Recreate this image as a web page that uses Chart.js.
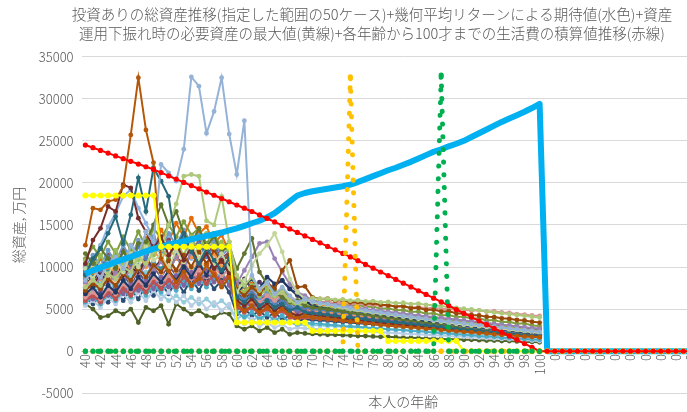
<!DOCTYPE html>
<html>
<head>
<meta charset="utf-8">
<script src="https://cdn.jsdelivr.net/npm/chart.js@4.4.1/dist/chart.umd.min.js"></script>
<style>
  html, body { margin: 0; padding: 0; overflow: hidden; background: #fff; }
  #wrap { width: 740px; height: 412px; }
</style>
</head>
<body>
<div id="wrap"><canvas id="chart" width="740" height="412"></canvas></div>
<script>
// x categories: age 40..100, then the empty rows of the sheet (shown as 0)
const ageLabels = [
  40, 41, 42, 43, 44, 45, 46, 47, 48, 49,
  50, 51, 52, 53, 54, 55, 56, 57, 58, 59,
  60, 61, 62, 63, 64, 65, 66, 67, 68, 69,
  70, 71, 72, 73, 74, 75, 76, 77, 78, 79,
  80, 81, 82, 83, 84, 85, 86, 87, 88, 89,
  90, 91, 92, 93, 94, 95, 96, 97, 98, 99,
  100, 0, 0, 0, 0, 0, 0, 0, 0, 0,
  0, 0, 0, 0, 0, 0, 0, 0, 0, 0,
  0, 0, 0, 0, 0
];

const yTicks = { min: -5000, max: 35000, step: 5000 };

// 生活費の積算値 (red)
const livingCost = [
  24500, 24180, 23860, 23540, 23210, 22880, 22560, 22240, 21920, 21600,
  21220, 20830, 20450, 20060, 19680, 19300, 18910, 18530, 18140, 17760,
  17370, 16990, 16600, 16190, 15770, 15360, 14940, 14530, 14110, 13700,
  13280, 12870, 12450, 12040, 11620, 11200, 10750, 10310, 9860, 9410,
  8970, 8520, 8080, 7630, 7180, 6740, 6290, 5850, 5400, 4950,
  4500, 4050, 3600, 3150, 2700, 2250, 1800, 1350, 900, 450,
  0, 0, 0, 0, 0, 0, 0, 0, 0, 0,
  0, 0, 0, 0, 0, 0, 0, 0, 0, 0,
  0, 0, 0, 0, 0
];

// 幾何平均リターンによる期待値 (light blue)
const expected = [
  9200, 9600, 9950, 10250, 10600, 10900, 11200, 11550, 11850, 12150,
  12400, 12650, 12850, 13050, 13300, 13500, 13700, 13900, 14100, 14350,
  14600, 14900, 15200, 15500, 15900, 16400, 17100, 17800, 18500, 18800,
  19000, 19150, 19300, 19450, 19600, 19800, 20100, 20450, 20800, 21150,
  21500, 21800, 22150, 22500, 22900, 23300, 23700, 24000, 24350, 24650,
  25000, 25450, 25900, 26350, 26800, 27250, 27650, 28050, 28450, 28900,
  29400, 0, 0, 0, 0, 0, 0, 0, 0, 0,
  0, 0, 0, 0, 0, 0, 0, 0, 0, 0,
  0, 0, 0, 0, 0
];

// 必要資産の最大値 (yellow)
const requiredMax = [
  18500, 18500, 18500, 18500, 18500, 18500, 18500, 18500, 18500, 18500,
  12400, 12400, 12400, 12400, 12400, 12400, 12400, 12400, 12400, 12400,
  3400, 3400, 3400, 3400, 3400, 3400, 3400, 3400, 3400, 3400,
  2400, 2400, 2400, 2400, 2400, 2400, 2400, 2400, 2400, 2400,
  1200, 1200, 1200, 1200, 1200, 1200, 1200, 1200, 1200, 1200,
  0, 0, 0, 0, 0, 0, 0, 0, 0, 0,
  0, 0, 0, 0, 0, 0, 0, 0, 0, 0,
  0, 0, 0, 0, 0, 0, 0, 0, 0, 0,
  0, 0, 0, 0, 0
];

// dotted marker series (orange at 75, green at 87)
const markOrange = [
  0, 0, 0, 0, 0, 0, 0, 0, 0, 0,
  0, 0, 0, 0, 0, 0, 0, 0, 0, 0,
  0, 0, 0, 0, 0, 0, 0, 0, 0, 0,
  0, 0, 0, 0, 0, 32600, 0, 0, 0, 0,
  0, 0, 0, 0, 0, 0, 0, 0, 0, 0,
  0, 0, 0, 0, 0, 0, 0, 0, 0, 0,
  0
];
const markGreen = [
  0, 0, 0, 0, 0, 0, 0, 0, 0, 0,
  0, 0, 0, 0, 0, 0, 0, 0, 0, 0,
  0, 0, 0, 0, 0, 0, 0, 0, 0, 0,
  0, 0, 0, 0, 0, 0, 0, 0, 0, 0,
  0, 0, 0, 0, 0, 0, 0, 32800, 0, 0,
  0, 0, 0, 0, 0, 0, 0, 0, 0, 0,
  0
];

// 50ケースのうち読み取れた分 (age 40..100)
const case01 = [12600,17000,16800,17800,18000,19600,25700,32500,26300,22400, 11000,9500,8200,9400,7800,8600,10200,9000,7600,8800, 5600,4800,5400,4600,5200,4400,5000,4300,3900,4200, 4000,3900,3850,3700,3650,3500,3450,3300,3250,3100, 3050,2950,2900,2800,2750,2650,2600,2500,2450,2350, 2300,2250,2150,2100,2000,1950,1900,1800,1750,1700, 1650];
const case02 = [8400,9600,8800,10400,11200,9800,12600,11400,14200,13000, 22200,21200,20200,24000,32600,31500,25900,28500,32500,25800, 21000,27400,9000,7400,8200,6800,7600,6600,5800,6200, 5900,5700,5600,5400,5300,5100,5000,4850,4700,4600, 4450,4350,4200,4100,3950,3850,3700,3600,3500,3400, 3300,3200,3100,3000,2900,2800,2700,2600,2500,2400, 2300];
const case03 = [9000,11000,12200,14000,16000,12800,16200,20600,16600,21800, 20200,18400,12500,14000,11800,10400,12200,10800,9600,11000, 6400,5800,6600,5400,6000,5200,5600,4800,5200,4600, 4500,4450,4300,4250,4100,4000,3900,3800,3700,3600, 3500,3450,3350,3250,3150,3050,2950,2850,2750,2650, 2550,2500,2400,2300,2250,2150,2050,2000,1900,1800, 1750];
const case04 = [10400,13200,14600,17200,16600,19800,19400,15800,14200,12200, 13600,11400,12800,10800,12400,10200,11600,9800,10800,9200, 6000,5400,6200,5000,5600,4800,5400,4600,4200,4500, 4300,4200,4100,4000,3900,3800,3700,3600,3500,3400, 3300,3200,3150,3050,2950,2850,2800,2700,2600,2550, 2450,2400,2300,2250,2150,2100,2000,1950,1850,1800, 1700];
const case05 = [7600,8400,7800,9200,8600,10000,9400,11200,10400,11800, 12000,15000,17500,20800,21000,20800,15500,15000,18400,13000, 9000,7800,8800,7200,8000,6600,7000,6000,5600,5900, 6300,6200,6250,6100,6150,6000,6050,5900,5950,5800, 5850,5700,5750,5600,5650,5500,5450,5350,5250,5150, 5050,4950,4850,4700,4600,4500,4400,4300,4200,4100, 4000];
const case06 = [9800,8600,10200,9000,10800,9400,11600,10000,12400,10800, 11400,9800,12000,10600,12800,11000,12200,10400,11600,9800, 7000,8400,10200,11600,12600,14000,11800,8600,7000,6200, 5800,5600,5500,5300,5200,5000,4900,4750,4600,4500, 4350,4250,4100,4000,3850,3750,3600,3500,3350,3250, 3150,3050,2950,2850,2750,2650,2550,2450,2350,2250, 2150];
const case07 = [11600,10400,12200,11000,9800,11800,10600,12800,13000,15000, 17400,15000,16600,14000,12800,14600,12400,13600,11800,12600, 9800,11600,13400,9400,8000,7000,6400,5800,6000,5400, 5200,5100,4950,4850,4700,4600,4450,4350,4200,4100, 3950,3850,3700,3600,3450,3350,3200,3100,2950,2850, 2700,2600,2500,2400,2300,2200,2100,2000,1900,1800, 1700];
const case08 = [7200,8000,7400,8600,7800,9200,8400,9800,8800,10200, 9400,10800,9600,11400,10000,11800,10400,12000,10600,11400, 7400,6600,7600,6800,8200,7400,9600,10800,7600,7700, 6400,6200,6250,6000,6050,5800,5850,5650,5700,5500, 5450,5300,5350,5100,5150,4900,4950,4700,4750,4500, 4450,4300,4250,4100,4050,3900,3850,3700,3650,3500, 3400];
const case09 = [6800,7600,6400,7800,7000,8400,7400,8800,7800,9200, 8200,9600,8400,10000,8800,10400,9000,10800,9400,10200, 7000,7800,8600,7400,8800,8000,8400,7400,6800,6000, 5400,5200,5000,4900,4750,4600,4500,4400,4250,4150, 4050,3950,3850,3750,3650,3550,3450,3350,3250,3150, 3050,2950,2850,2750,2650,2550,2450,2350,2250,2150, 2050];
const case10 = [8200,7400,8800,7800,9400,8400,9800,8800,10400,9600, 10600,9400,11200,9800,11800,10200,12000,10600,11400,10000, 8000,9600,11200,12800,13000,11000,9400,8000,7000,6600, 6000,5800,5650,5500,5400,5250,5150,5000,4900,4800, 4650,4550,4450,4350,4250,4150,4050,3950,3850,3750, 3650,3550,3450,3350,3250,3150,3050,2950,2850,2750, 2650];
const case11 = [6400,7000,6200,7400,6800,8000,7200,8400,7600,8800, 8000,9000,8200,9400,8600,9800,8800,10000,9000,9600, 6000,5600,6400,5800,6600,6000,6800,6200,5800,6000, 5900,5800,5850,5700,5750,5600,5650,5500,5550,5400, 5450,5300,5350,5200,5250,5100,5150,5000,5050,4900, 4950,4800,4850,4700,4750,4600,4550,4400,4350,4250, 4200];
const case12 = [9400,10600,9600,11200,10200,11800,10400,12400,11000,12800, 11600,13000,11800,13400,12000,12800,11200,12400,10800,11600, 6800,6000,6800,5800,6400,5600,6000,5200,5000,5200, 5000,4900,4800,4700,4600,4500,4400,4300,4200,4100, 4000,3900,3800,3700,3600,3500,3400,3300,3200,3100, 3000,2900,2800,2700,2600,2500,2400,2300,2200,2100, 2000];
const case13 = [6000,6600,5800,7000,6200,7400,6600,7800,7000,8200, 7400,8400,7600,8800,7800,9000,8000,9200,8200,9000, 5200,4600,5200,4400,5000,4200,4800,4000,3800,4000, 3900,3850,3750,3700,3600,3550,3450,3400,3300,3250, 3150,3100,3000,2950,2850,2800,2700,2650,2550,2500, 2400,2350,2250,2200,2100,2050,1950,1900,1800,1750, 1700];
const case14 = [10800,9600,11400,10000,12000,10400,12600,10800,13200,11400, 12400,10800,13000,11400,13600,11800,14000,12200,13000,11600, 7600,7000,7800,6600,7400,6200,7000,5800,5400,5600, 5400,5300,5200,5100,5000,4900,4800,4700,4600,4500, 4400,4300,4200,4100,4000,3900,3800,3700,3600,3500, 3400,3300,3200,3100,3000,2900,2800,2700,2600,2500, 2400];
const case15 = [7000,6200,7400,6600,7800,6800,8200,7200,8600,7400, 8800,7600,9000,7800,9400,8000,9600,8200,9200,7800, 5400,6000,5200,5800,5000,5600,4800,5200,4600,4800, 4600,4500,4400,4300,4200,4100,4000,3900,3800,3750, 3650,3550,3450,3400,3300,3200,3100,3050,2950,2850, 2750,2700,2600,2500,2400,2350,2250,2150,2050,2000, 1900];
const case16 = [5800,6400,5600,6800,6000,7200,6400,7600,6600,7800, 7000,8000,7200,8400,7400,8600,7600,8800,7800,8400, 4600,4000,4600,3800,4400,3600,4200,3400,3200,3400, 3300,3250,3150,3100,3000,2950,2900,2800,2750,2700, 2600,2550,2500,2400,2350,2300,2200,2150,2100,2000, 1950,1900,1800,1750,1700,1600,1550,1500,1450,1400, 1350];
const case17 = [8800,9800,8600,10400,9200,11000,9600,11600,10000,12000, 10800,12400,11000,12800,11200,12000,10400,11600,10000,10800, 6200,5400,6000,5000,5600,4600,5200,4400,4600,4900, 4800,4700,4600,4500,4450,4350,4250,4150,4050,3950, 3850,3750,3650,3550,3450,3350,3250,3150,3050,2950, 2850,2750,2650,2550,2450,2350,2250,2150,2050,1950, 1850];
const case18 = [5400,6000,5200,6400,5600,6800,5800,7000,6000,7200, 6200,7000,5800,6600,5400,6200,5000,5800,4800,5600, 3600,3200,3800,3000,3400,2800,3200,2600,2800,2700, 2650,2600,2550,2500,2500,2450,2400,2350,2300,2250, 2200,2150,2100,2050,2000,1950,1900,1850,1800,1750, 1700,1650,1600,1550,1500,1450,1400,1350,1300,1250, 1200];
const case19 = [6400,5600,6800,5800,7200,6000,7400,6200,7800,6600, 8000,6800,8400,7000,8600,7200,8800,7400,8400,7000, 4400,5000,4200,4800,4000,4600,3800,4200,3600,3800, 3700,3650,3600,3500,3450,3400,3300,3250,3200,3100, 3050,3000,2900,2850,2800,2700,2650,2600,2500,2450, 2400,2300,2250,2200,2100,2050,2000,1900,1850,1800, 1750];
const case20 = [5600,5000,4000,4200,4800,4400,5000,3400,5200,4800, 5400,3200,5600,5000,4400,4800,4200,4000,4600,4400, 3000,2600,3000,2400,2800,2200,2600,2000,2200,2100, 2050,2000,1950,1950,1900,1850,1800,1800,1750,1700, 1700,1650,1600,1600,1550,1500,1500,1450,1400,1400, 1350,1350,1300,1250,1250,1200,1200,1150,1100,1100, 1050];
const case21 = [7800,8600,7600,9000,8000,9400,8200,9800,8600,10200, 9200,10400,9400,10800,9600,11000,9800,11200,10000,10600, 6600,5800,6400,5400,6000,5000,5600,4800,4600,4800, 4700,4600,4550,4450,4350,4300,4200,4100,4050,3950, 3850,3800,3700,3600,3550,3450,3350,3300,3200,3100, 3050,2950,2850,2800,2700,2600,2550,2450,2350,2300, 2200];
const case22 = [10000,11400,10200,12000,10600,12600,11000,13200,11400,13600, 12400,14000,12600,14400,12800,13800,12000,13000,11400,12200, 7200,6400,7400,6200,7000,5800,6600,5400,5200,5500, 5300,5200,5100,5000,4900,4800,4700,4600,4500,4400, 4300,4200,4100,4000,3900,3800,3700,3600,3500,3400, 3300,3200,3100,3000,2900,2800,2700,2600,2500,2400, 2300];
const case23 = [8600,7800,9200,8200,9800,8600,10200,9000,10800,9400, 11000,9600,11400,9800,11800,10000,12000,10200,11400,9800, 6200,7000,6000,6800,5800,6400,5400,6000,5000,5200, 5000,4900,4800,4700,4600,4500,4400,4300,4200,4100, 4000,3900,3800,3700,3600,3500,3400,3300,3200,3100, 3000,2900,2800,2700,2600,2500,2400,2300,2200,2100, 2000];
const case24 = [7400,6800,7800,7000,8200,7200,8600,7400,9000,7600, 9200,7800,9400,8000,9600,8200,9800,8400,9400,8000, 5000,5600,4800,5400,4600,5200,4400,4800,4200,4400, 4300,4200,4150,4050,3950,3900,3800,3700,3650,3550, 3450,3400,3300,3200,3150,3050,2950,2900,2800,2700, 2650,2550,2450,2400,2300,2200,2150,2050,1950,1900, 1800];
const case25 = [9200,8200,9800,8600,10400,9000,10800,9400,11200,9800, 10800,9600,11200,10000,11600,10400,12000,10800,11400,10200, 7800,8600,7400,8200,7000,7800,8400,7400,6600,6000, 5600,5200,5050,4900,4800,4700,4600,4450,4350,4250, 4200,4150,4100,4050,4000,3900,3800,3700,3600,3500, 3400,3350,3250,3200,3100,3000,2900,2800,2700,2600, 2500];
const case26 = [6200,6800,6000,7200,6400,7600,6800,8000,7200,8400, 7600,8600,7800,9000,8000,9200,8200,9000,7800,8600, 5200,4800,5400,4600,5200,4400,5000,4200,4000,4200, 4150,4100,4050,4000,3950,3900,3850,3800,3750,3700, 3650,3600,3550,3500,3450,3400,3350,3300,3250,3200, 3150,3100,3050,3000,2950,2900,2850,2800,2750,2700, 2650];
const case27 = [11000,12400,11200,13000,11600,13600,12000,14200,12400,14600, 13400,15000,13600,15400,13800,14600,12800,14000,12200,13000, 8400,7600,8600,7200,8000,6800,7400,6400,6000,6200, 6000,5850,5900,5650,5700,5450,5500,5250,5300,5050, 5100,4850,4900,4650,4700,4450,4500,4250,4300,4050, 4100,3850,3900,3650,3700,3450,3500,3250,3300,3050, 3000];
const case28 = [8000,8800,7800,9400,8200,9800,8400,10200,8800,10600, 9800,11000,9600,10800,9400,10600,9200,10400,9000,9800, 5800,5200,6000,4800,5600,4400,5000,4200,4000,4200, 4100,4000,3950,3850,3800,3700,3650,3550,3500,3400, 3350,3250,3200,3100,3050,2950,2900,2800,2750,2650, 2600,2500,2450,2350,2300,2200,2150,2050,2000,1900, 1850];
const case29 = [6600,7200,6400,7600,6800,8000,7000,8400,7400,8800, 8200,9200,8400,9600,8600,9800,8800,9600,8400,9200, 5800,5200,5800,5000,5400,4800,5200,4600,4400,4600, 4500,4400,4350,4250,4200,4100,4050,3950,3900,3800, 3750,3650,3600,3500,3450,3350,3300,3200,3150,3050, 3000,2900,2850,2750,2700,2600,2550,2450,2400,2300, 2250];
const case30 = [7600,8400,7200,8800,7600,9200,7800,9600,8000,10000, 8800,10200,9000,10400,9200,10000,8600,9600,8200,9000, 5600,6200,5400,6000,5200,5800,5000,5400,4800,5000, 4900,4800,4700,4600,4550,4450,4350,4250,4150,4100, 4000,3900,3800,3750,3650,3550,3450,3350,3300,3200, 3100,3000,2950,2850,2750,2650,2550,2500,2400,2300, 2200];
const case31 = [9600,10800,9800,11400,10200,12000,10600,12600,11000,13000, 11800,13200,12000,13600,12200,13000,11400,12600,11000,11800, 7000,6200,7200,6000,6800,5600,6400,5200,5000,5300, 5100,5000,4900,4800,4700,4600,4500,4400,4300,4200, 4100,4000,3900,3800,3700,3600,3500,3400,3300,3200, 3100,3000,2900,2800,2700,2600,2500,2400,2300,2200, 2100];
const case32 = [8000,7200,8400,7400,8800,7600,9200,7800,9400,8000, 6800,6000,6600,5800,6400,5600,6200,5400,6000,5200, 3800,4400,3600,4200,3400,4000,3200,3600,3000,3200, 3100,3050,3000,2950,2900,2850,2800,2750,2700,2650, 2600,2550,2500,2450,2400,2350,2300,2250,2200,2150, 2100,2050,2000,1950,1900,1850,1800,1750,1700,1650, 1600];
const case33 = [9400,11000,12600,14800,16400,18400,19200,17000,15200,13400, 12000,13400,11600,12800,11000,12200,10400,11200,9800,10600, 6600,6000,6800,5600,6200,5200,5800,4800,4600,4800, 4700,4600,4500,4400,4300,4200,4100,4000,3900,3800, 3700,3600,3500,3400,3300,3200,3100,3000,2900,2800, 2700,2600,2500,2400,2300,2200,2100,2000,1900,1800, 1700];
const case34 = [10200,9000,11000,9600,11800,10400,12600,11200,13400,12000, 14400,13000,15200,13600,15800,14000,14800,12800,13800,11800, 7800,7000,8000,6800,7600,6400,7000,6000,5600,5800, 5600,5500,5400,5300,5200,5100,5000,4900,4800,4700, 4600,4500,4400,4300,4200,4100,4000,3900,3800,3700, 3600,3500,3400,3300,3200,3100,3000,2900,2800,2700, 2600];

const caseSeries = [
  case01, case02, case03, case04, case05, case06, case07, case08, case09, case10,
  case11, case12, case13, case14, case15, case16, case17, case18, case19, case20,
  case21, case22, case23, case24, case25, case26, case27, case28, case29, case30,
  case31, case32, case33, case34
];

const caseColors = [
  "#B65708", "#95B3D7", "#276A7C", "#772C2A", "#AFC97A", "#C3D69B", "#5F7530", "#984807",
  "#1F3864", "#9983B5", "#D99694", "#4F81BD", "#C0504D", "#9BBB59", "#8064A2", "#4BACC6",
  "#F79646", "#B9CDE5", "#2C4D75", "#4F6228", "#FAC090", "#729ACA", "#632523", "#6FBDD1",
  "#4D3B62", "#CD7371", "#7E9D40", "#358EA6", "#F37D22", "#664F83", "#9F3B38", "#93CDDD",
  "#8DB4E2", "#E46C0A"
];

const titleLines = [
  "投資ありの総資産推移(指定した範囲の50ケース)+幾何平均リターンによる期待値(水色)+資産",
  "運用下振れ時の必要資産の最大値(黄線)+各年齢から100才までの生活費の積算値推移(赤線)"
];

Chart.defaults.font.family = "'Noto Sans CJK JP', 'Noto Sans', sans-serif";
Chart.defaults.font.weight = "300";
Chart.defaults.color = "#595959";

const chart = document.getElementById("chart");

function caseDataset(values, i) {
  const color = caseColors[i % caseColors.length];
  return {
    label: "ケース" + (i + 1),
    data: values,
    borderColor: color,
    backgroundColor: color,
    borderWidth: 2,
    pointRadius: 2.4,
    pointBorderWidth: 0,
    pointBackgroundColor: color,
    order: 10 + i
  };
}

function dottedDataset(label, values, color, order) {
  return {
    label: label,
    data: values,
    borderColor: color,
    backgroundColor: color,
    borderWidth: 5,
    borderDash: [0.1, 12.6],
    borderCapStyle: "round",
    pointRadius: 2.6,
    pointBorderWidth: 0,
    pointBackgroundColor: color,
    order: order
  };
}

const datasets = [
  dottedDataset("緑", markGreen, "#00B050", 0),
  dottedDataset("橙", markOrange, "#FFC000", 1),
  {
    label: "生活費の積算値",
    data: livingCost,
    borderColor: "#FF0000",
    backgroundColor: "#FF0000",
    borderWidth: 2,
    pointRadius: 2.6,
    pointBorderWidth: 0,
    pointBackgroundColor: "#FF0000",
    order: 2
  },
  {
    label: "必要資産の最大値",
    data: requiredMax,
    borderColor: "#FFFF00",
    backgroundColor: "#FFFF00",
    borderWidth: 2,
    pointRadius: 3,
    pointBorderWidth: 0,
    pointBackgroundColor: "#FFFF00",
    order: 3
  },
  {
    label: "期待値",
    data: expected,
    borderColor: "#00B0F0",
    borderWidth: 6,
    pointRadius: 0,
    borderJoinStyle: "round",
    order: 4
  }
];

for (let i = 0; i < caseSeries.length; i++) {
  datasets.push(caseDataset(caseSeries[i], i));
}

new Chart(chart, {
  type: "line",
  data: {
    labels: ageLabels,
    datasets: datasets
  },
  options: {
    responsive: false,
    animation: false,
    events: [],
    layout: { padding: { left: 6, right: 2, top: 0, bottom: 0 } },
    plugins: {
      legend: { display: false },
      tooltip: { enabled: false },
      title: {
        display: true,
        text: titleLines,
        color: "#595959",
        font: { size: 14.5, weight: "300", lineHeight: 1.3 },
        padding: { top: 5, bottom: 14 }
      }
    },
    scales: {
      x: {
        type: "category",
        position: { y: 0 },
        offset: true,
        grid: { display: false, drawTicks: false },
        border: { color: "#D9D9D9" },
        ticks: {
          autoSkip: false,
          maxRotation: 90,
          minRotation: 90,
          padding: 3,
          color: "#595959",
          font: { size: 13 },
          callback: function(value, index) {
            return index % 2 === 0 ? this.getLabelForValue(value) : "";
          }
        }
      },
      xTitle: {
        type: "category",
        position: "bottom",
        labels: [""],
        grid: { display: false, drawTicks: false },
        border: { display: false },
        ticks: { display: false },
        title: {
          display: true,
          text: "本人の年齢",
          color: "#595959",
          font: { size: 14 },
          padding: { top: 0, bottom: 2 }
        }
      },
      y: {
        min: yTicks.min,
        max: yTicks.max,
        ticks: {
          stepSize: yTicks.step,
          color: "#595959",
          font: { size: 13 },
          padding: 8,
          callback: function(value) { return String(value); }
        },
        grid: { color: "#D9D9D9", drawTicks: false },
        border: { display: false },
        title: {
          display: true,
          text: "総資産, 万円",
          color: "#595959",
          font: { size: 14 }
        }
      }
    }
  }
});
</script>
</body>
</html>
